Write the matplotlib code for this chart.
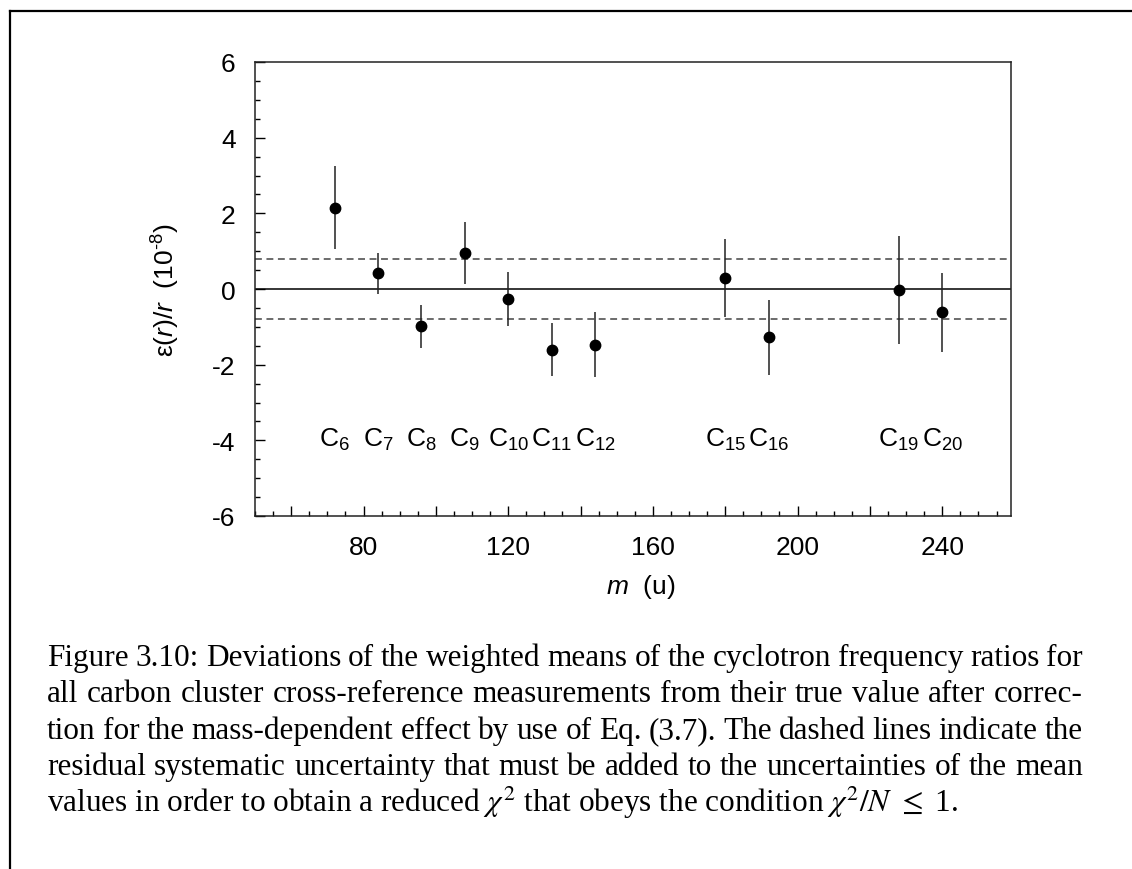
import matplotlib
matplotlib.use("Agg")
import matplotlib.pyplot as plt
from matplotlib.lines import Line2D
from matplotlib.ticker import FuncFormatter, MultipleLocator


# ------------------------------------------------------------
# data
# ------------------------------------------------------------
CLUSTER_N = [6, 7, 8, 9, 10, 11, 12, 15, 16, 19, 20]
MASS_U = [72, 84, 96, 108, 120, 132, 144, 180, 192, 228, 240]
DEVIATION = [2.15, 0.41, -0.98, 0.96, -0.26, -1.60, -1.47, 0.29, -1.28, -0.03, -0.62]
UNCERTAINTY = [1.10, 0.54, 0.57, 0.82, 0.72, 0.71, 0.85, 1.03, 1.00, 1.42, 1.04]
RESIDUAL_SYST = 0.8
LABEL_LEVEL = -4.15

X_RANGE = (50, 259)
Y_RANGE = (-6, 6)

CAPTION_LINES = [
    "Figure 3.10: Deviations of the weighted means of the cyclotron frequency ratios for",
    "all carbon cluster cross-reference measurements from their true value after correc-",
    "tion for the mass-dependent effect by use of Eq. (3.7). The dashed lines indicate the",
    "residual systematic uncertainty that must be added to the uncertainties of the mean",
]
CAPTION_LAST = r"values in order to obtain a reduced $\chi^2$ that obeys the condition $\chi^2/N$ $\leq$ 1."

# ------------------------------------------------------------
# style
# ------------------------------------------------------------
W_PX, H_PX = 1132, 870
DPI = 100
SANS = "Liberation Sans"
SERIF = "Liberation Serif"
TICK_FONTSIZE = 19
CAPTION_FONTSIZE = 22.5
CAPTION_LEFT_PX = 47
CAPTION_RIGHT_PX = 1083
CAPTION_BASELINES_PX = [666, 702.5, 739, 775.5, 812]

plt.rcParams["font.family"] = SANS
plt.rcParams["axes.unicode_minus"] = False
plt.rcParams["mathtext.fontset"] = "custom"
plt.rcParams["mathtext.rm"] = SANS
plt.rcParams["mathtext.it"] = SANS + ":italic"
plt.rcParams["mathtext.bf"] = SANS + ":bold"


def px_x(x):
    return x / W_PX


def px_y(y):
    return 1 - y / H_PX


def draw_justified(fig, renderer, line, baseline_px):
    """Place the words of one caption line so it fills the text width."""
    words = line.split(" ")
    texts = [
        fig.text(0, px_y(baseline_px), w, fontsize=CAPTION_FONTSIZE,
                 family=SERIF, va="baseline", ha="left")
        for w in words
    ]
    widths = [t.get_window_extent(renderer).width for t in texts]
    gap = (CAPTION_RIGHT_PX - CAPTION_LEFT_PX - sum(widths)) / (len(words) - 1)
    x = CAPTION_LEFT_PX
    for t, w in zip(texts, widths):
        t.set_x(px_x(x))
        x += w + gap


def main():
    fig = plt.figure(figsize=(W_PX / DPI, H_PX / DPI), dpi=DPI)
    fig.patch.set_facecolor("white")

    # page frame (top and left rule)
    fig.add_artist(Line2D([px_x(10), 1.0], [px_y(12), px_y(12)],
                          transform=fig.transFigure, color="black", lw=1.6))
    fig.add_artist(Line2D([px_x(10), px_x(10)], [px_y(12), 0.0],
                          transform=fig.transFigure, color="black", lw=1.6))

    ax = fig.add_axes([px_x(255), px_y(517), (1011 - 255) / W_PX, (517 - 63) / H_PX])

    ax.axhline(0, color="black", lw=1.1, zorder=1)
    for level in (RESIDUAL_SYST, -RESIDUAL_SYST):
        ax.axhline(level, color="#444444", lw=1.1, linestyle=(0, (4.5, 3)), zorder=1)

    ax.errorbar(MASS_U, DEVIATION, yerr=UNCERTAINTY, fmt="o", color="black",
                ecolor="#222222", elinewidth=1.1, markersize=7.5, capsize=0, zorder=3)

    for n, m in zip(CLUSTER_N, MASS_U):
        ax.text(m, LABEL_LEVEL, rf"C$_{{{n}}}$", ha="center", va="baseline",
                fontsize=TICK_FONTSIZE)

    ax.set_xlim(*X_RANGE)
    ax.set_ylim(*Y_RANGE)

    ax.xaxis.set_major_locator(MultipleLocator(20))
    ax.xaxis.set_minor_locator(MultipleLocator(5))
    ax.xaxis.set_major_formatter(FuncFormatter(lambda v, _: f"{v:.0f}" if round(v) % 40 == 0 else ""))
    ax.yaxis.set_major_locator(MultipleLocator(2))
    ax.yaxis.set_minor_locator(MultipleLocator(0.5))
    ax.yaxis.set_major_formatter(FuncFormatter(lambda v, _: f"{v:.0f}"))

    ax.tick_params(which="both", direction="in", top=False, right=False,
                   width=1.0, colors="black", labelsize=TICK_FONTSIZE, pad=14)
    ax.tick_params(which="major", length=7)
    ax.tick_params(which="minor", length=3.5)
    for spine in ax.spines.values():
        spine.set_linewidth(1.1)
        spine.set_color("#222222")

    ax.set_xlabel(r"$\mathit{m}$  (u)", fontsize=TICK_FONTSIZE)
    ax.xaxis.set_label_coords(0.51, -0.123)
    ax.set_ylabel(r"$\mathrm{ε}(\mathit{r})/\mathit{r}$  (10$^{\text{-8}}$)", fontsize=TICK_FONTSIZE)
    ax.yaxis.set_label_coords(-0.097, 0.5)

    renderer = fig.canvas.get_renderer()
    for line, base in zip(CAPTION_LINES, CAPTION_BASELINES_PX):
        draw_justified(fig, renderer, line, base)
    last = fig.text(px_x(CAPTION_LEFT_PX), px_y(CAPTION_BASELINES_PX[-1]), CAPTION_LAST,
                    fontsize=CAPTION_FONTSIZE, family=SERIF, va="baseline", ha="left")
    last.set_math_fontfamily("stix")

    fig.savefig("out.png", dpi=DPI, facecolor="white")
    plt.close(fig)


if __name__ == "__main__":
    main()
